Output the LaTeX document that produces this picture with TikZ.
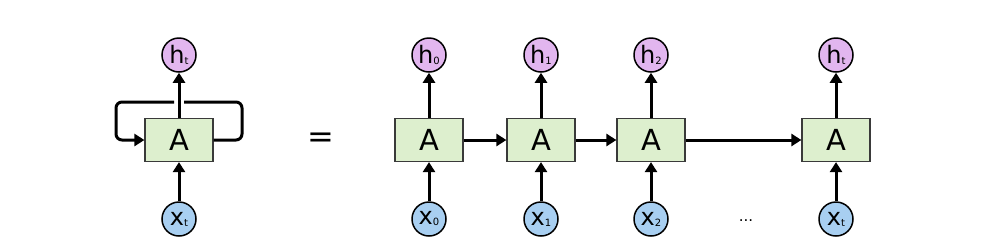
\documentclass[tikz,border=0pt]{standalone}
\usepackage{fontspec}
\setmainfont{DejaVu Sans}
\usetikzlibrary{arrows.meta}
\definecolor{boxfill}{HTML}{DDEFCE}
\definecolor{hfill}{HTML}{E2B6EF}
\definecolor{xfill}{HTML}{A8CFF1}
\definecolor{edgegray}{HTML}{3A3A3A}
\tikzset{
  cellbox/.style={draw=edgegray, line width=1.2pt, fill=boxfill, minimum width=68pt, minimum height=43pt, inner sep=0pt, font=\fontsize{29}{29}\selectfont},
  hcirc/.style={circle, draw=black, line width=1.5pt, fill=hfill, minimum size=34pt, inner sep=0pt, font=\fontsize{24}{24}\selectfont},
  xcirc/.style={circle, draw=black, line width=1.5pt, fill=xfill, minimum size=34pt, inner sep=0pt, font=\fontsize{24}{24}\selectfont},
  conn/.style={line width=3pt, -{Triangle[length=10pt,width=12pt]}},
  loopline/.style={line width=3pt, rounded corners=6pt},
}
\newcommand{\sbs}[1]{\raisebox{-1pt}{\fontsize{10}{10}\selectfont #1}}
\begin{document}
\begin{tikzpicture}[x=1pt,y=-1pt]
\useasboundingbox (0,0) rectangle (987,250);
% left folded cell
\node[cellbox] (A) at (179,140) {A};
\node[hcirc] (h) at (179,55) {h\sbs{t}};
\node[xcirc] (x) at (179,219) {x\sbs{t}};
\coordinate (lr) at (242,102);
\coordinate (ll) at (116,102);
\coordinate (gapR) at (184,102);
\coordinate (gapL) at (174,102);
\draw[loopline] (A.east) -| (lr) -- (gapR);
\draw[loopline, -{Triangle[length=10pt,width=12pt]}] (gapL) -- (ll) |- (A.west);
\draw[conn] (A) -- (h);
\draw[conn] (x) -- (A);
\node[font=\fontsize{32}{32}\selectfont] (eq) at (321,140) {=};
% unrolled
\foreach \i/\xx/\lab in {0/429/0, 1/541/1, 2/651/2, 3/836/t} {
  \node[cellbox] (A\i) at (\xx,140) {A};
  \node[hcirc] (h\i) at (\xx,55) {h\sbs{\lab}};
  \node[xcirc] (x\i) at (\xx,219) {x\sbs{\lab}};
  \draw[conn] (A\i) -- (h\i);
  \draw[conn] (x\i) -- (A\i);
}
\draw[conn] (A0) -- (A1);
\draw[conn] (A1) -- (A2);
\draw[conn] (A2) -- (A3);
\node[font=\fontsize{15}{15}\selectfont] (dots) at (746,221) {...};
\end{tikzpicture}
\end{document}
